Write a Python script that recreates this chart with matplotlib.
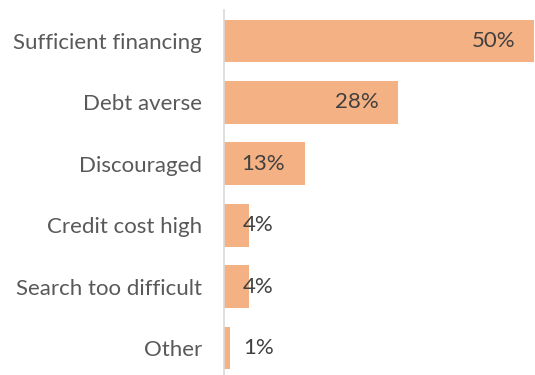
import matplotlib
matplotlib.use("Agg")
import matplotlib.pyplot as plt

categories = ["Sufficient financing", "Debt averse", "Discouraged",
              "Credit cost high", "Search too difficult", "Other"]
values = [50, 28, 13, 4, 4, 1]
value_labels = ["50%", "28%", "13%", "4%", "4%", "1%"]

plt.rcParams['font.family'] = ['Lato', 'DejaVu Sans']

W, H = 535, 375
fig = plt.figure(figsize=(W / 100, H / 100), dpi=100)
top_px, bot_px = 10.3, 378.7
ax = fig.add_axes([224 / W, (H - bot_px) / H, (535 - 224) / W, (bot_px - top_px) / H])

ypos = list(range(len(categories)))
ax.barh(ypos, values, height=0.7, color="#F4B183", edgecolor="none")
ax.set_xlim(0, 50.1)
ax.set_ylim(len(categories) - 0.5, -0.5)

ax.set_yticks(ypos)
ax.set_yticklabels(categories, fontsize=16, color="#595959")
ax.tick_params(axis="y", length=0, pad=16)
ax.set_xticks([])

for s in ["top", "right", "bottom"]:
    ax.spines[s].set_visible(False)
ax.spines["left"].set_color("#D9D9D9")
ax.spines["left"].set_linewidth(1.2)

for y, v, lab in zip(ypos, values, value_labels):
    if v >= 10:
        ax.annotate(lab, (v, y), xytext=(-14, 0), textcoords="offset points",
                    ha="right", va="center", fontsize=16, color="#404040")
    else:
        ax.annotate(lab, (0, y), xytext=(13.5, 0), textcoords="offset points",
                    ha="left", va="center", fontsize=16, color="#404040")

fig.savefig("out.png", dpi=100)
